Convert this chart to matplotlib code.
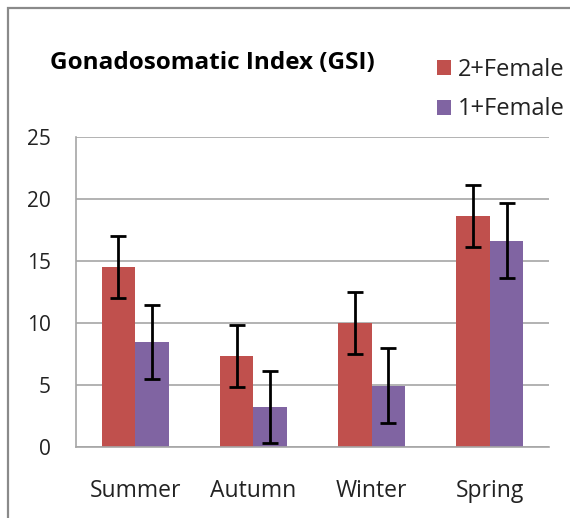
import matplotlib
matplotlib.use("Agg")
import matplotlib.pyplot as plt
import numpy as np
from matplotlib.patches import Rectangle

seasons = ["Summer", "Autumn", "Winter", "Spring"]
female2 = [14.5, 7.3, 10.0, 18.6]
female2_err = [2.5, 2.5, 2.5, 2.5]
female1 = [8.45, 3.25, 4.95, 16.65]
female1_err = [3.0, 2.9, 3.0, 3.0]
yticks = [0, 5, 10, 15, 20, 25]

red = "#C0504D"
purple = "#8064A2"
font = "Open Sans"

fig = plt.figure(figsize=(5.70, 5.18), dpi=100)
W, H = 570, 518
# outer border
fig.patches.append(Rectangle((8 / W, -0.1), 1.2, 1 - 8 / H + 0.1, transform=fig.transFigure,
                             fill=False, edgecolor="#8a8a8a", linewidth=1.6))

ax = fig.add_axes([76 / W, 1 - 447 / H, (549 - 76) / W, (447 - 137) / H])
x = np.arange(len(seasons))
bw = 0.283
ax.bar(x - bw / 2, female2, bw, color=red, label="2+Female", zorder=2)
ax.bar(x + bw / 2, female1, bw, color=purple, label="1+Female", zorder=2)
ax.errorbar(x - bw / 2, female2, yerr=female2_err, fmt="none", ecolor="black",
            elinewidth=2, capsize=6, capthick=2, zorder=3)
ax.errorbar(x + bw / 2, female1, yerr=female1_err, fmt="none", ecolor="black",
            elinewidth=2, capsize=6, capthick=2, zorder=3)

ax.set_xlim(-0.5, 3.5)
ax.set_ylim(0, 25)
ax.set_yticks(yticks)
ax.set_xticks(x)
ax.set_xticklabels(seasons, fontsize=16.5, fontfamily=font, color="#222222")
for lab in ax.get_yticklabels():
    lab.set_fontfamily(font)
ax.tick_params(axis="y", labelsize=15, length=0, pad=18, colors="#222222")
ax.tick_params(axis="x", length=0, pad=23)
ax.yaxis.grid(True, color="#a6a6a6", linewidth=1.2, zorder=0)
ax.set_axisbelow(True)
for s in ["top", "right"]:
    ax.spines[s].set_visible(False)
for s in ["left", "bottom"]:
    ax.spines[s].set_color("#a6a6a6")
    ax.spines[s].set_linewidth(1.2)

fig.text(50 / W, 1 - 63 / H, "Gonadosomatic Index (GSI)", fontsize=17.5, fontweight="bold",
         fontfamily=font, va="center", ha="left", color="black")

leg = fig.legend(loc="upper left", bbox_to_anchor=(437 / W, 1 - 58 / H), frameon=False,
                 prop={"family": font, "size": 17}, handlelength=0.6, handleheight=0.6,
                 handletextpad=0.3, labelspacing=0.65, borderpad=0, borderaxespad=0)
for t in leg.get_texts():
    t.set_color("#222222")

fig.savefig("out.png", dpi=100)
